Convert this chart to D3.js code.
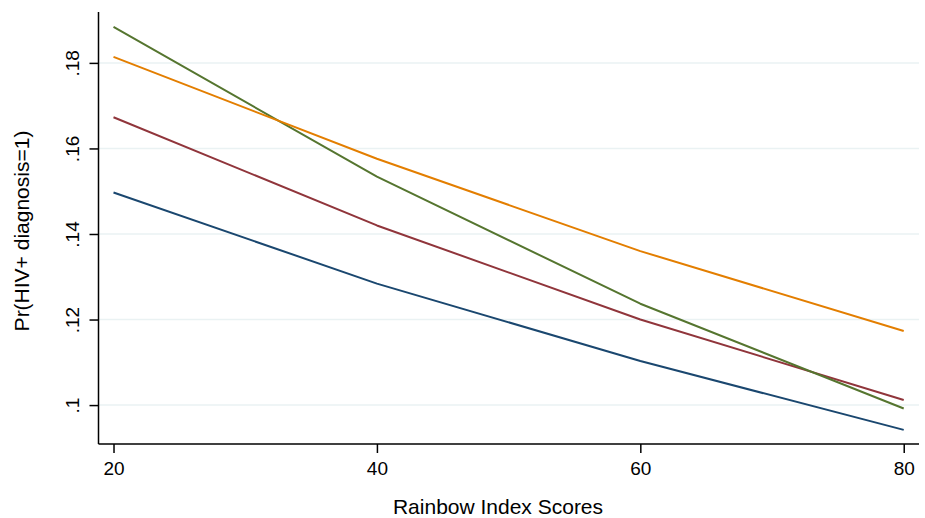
<!DOCTYPE html>
<html>
<head>
<meta charset="utf-8">
<script src="https://cdn.jsdelivr.net/npm/d3@7"></script>
<style>
  html, body { margin: 0; padding: 0; background: #ffffff; }
  svg { display: block; }
  text { font-family: "Liberation Sans", Arial, Helvetica, sans-serif; fill: #000; }
</style>
</head>
<body>
<svg id="chart" width="925" height="518"></svg>
<script>
// ---- data ----
const xValues = [20, 40, 60, 80];
const seriesNames = ["s1", "s2", "s3", "s4"];
const seriesColors = ["#1a476f", "#90353b", "#55752f", "#e37e00"];
const navyValues   = [0.1497, 0.1284, 0.1103, 0.0942];
const maroonValues = [0.1673, 0.1420, 0.1200, 0.1012];
const greenValues  = [0.1884, 0.1534, 0.1237, 0.0992];
const orangeValues = [0.1814, 0.1576, 0.1360, 0.1173];
const xTicks = [20, 40, 60, 80];
const yTicks = [0.10, 0.12, 0.14, 0.16, 0.18];
const yTickLabels = [".1", ".12", ".14", ".16", ".18"];
const xTitle = "Rainbow Index Scores";
const yTitle = "Pr(HIV+ diagnosis=1)";

const allSeries = [navyValues, maroonValues, greenValues, orangeValues];

// ---- layout ----
const pL = 98.5, pR = 919, pT = 12, pB = 444;
const svg = d3.select("#chart");

const x = d3.scaleLinear().domain([18.86, 81.16]).range([pL, pR]);
const y = d3.scaleLinear().domain([0.0909, 0.1919]).range([pB, pT]);

// gridlines
svg.append("g").selectAll("line").data(yTicks).join("line")
  .attr("x1", pL).attr("x2", pR)
  .attr("y1", d => y(d)).attr("y2", d => y(d))
  .attr("stroke", "#eaf2f3").attr("stroke-width", 1.5);

// series lines
const line = d3.line().x((d, i) => x(xValues[i])).y(d => y(d));
svg.append("g").selectAll("path").data(allSeries).join("path")
  .attr("d", d => line(d))
  .attr("fill", "none")
  .attr("stroke", (d, i) => seriesColors[i])
  .attr("stroke-width", 2)
  .attr("stroke-linejoin", "round");

// y axis
const yAxis = d3.axisLeft(y).tickValues(yTicks)
  .tickFormat((d, i) => yTickLabels[i]).tickSize(9).tickPadding(0);
const gy = svg.append("g").attr("transform", `translate(${pL},0)`).call(yAxis);
gy.select(".domain").attr("d", `M0,${pT}V${pB}`).attr("stroke", "#000").attr("stroke-width", 1.5);
gy.selectAll(".tick line").attr("stroke", "#000").attr("stroke-width", 1.5);
gy.selectAll(".tick text")
  .attr("font-size", 19)
  .attr("font-family", "'Liberation Sans', Arial, sans-serif")
  .attr("fill", "#000")
  .attr("text-anchor", "middle")
  .attr("x", null).attr("dy", null)
  .attr("transform", "translate(-20,0) rotate(-90)");

// x axis
const xAxis = d3.axisBottom(x).tickValues(xTicks).tickFormat(d3.format("d")).tickSize(9).tickPadding(0);
const gx = svg.append("g").attr("transform", `translate(0,${pB})`).call(xAxis);
gx.select(".domain").attr("d", `M${pL},0H${pR}`).attr("stroke", "#000").attr("stroke-width", 1.5);
gx.selectAll(".tick line").attr("stroke", "#000").attr("stroke-width", 1.5);
gx.selectAll(".tick text")
  .attr("font-size", 19)
  .attr("font-family", "'Liberation Sans', Arial, sans-serif")
  .attr("fill", "#000")
  .attr("y", 31).attr("dy", null);

// titles
svg.append("text")
  .attr("x", 498).attr("y", 514)
  .attr("text-anchor", "middle").attr("font-size", 21)
  .text(xTitle);

svg.append("text")
  .attr("transform", `translate(29,${231}) rotate(-90)`)
  .attr("text-anchor", "middle").attr("font-size", 21)
  .text(yTitle);
</script>
</body>
</html>
